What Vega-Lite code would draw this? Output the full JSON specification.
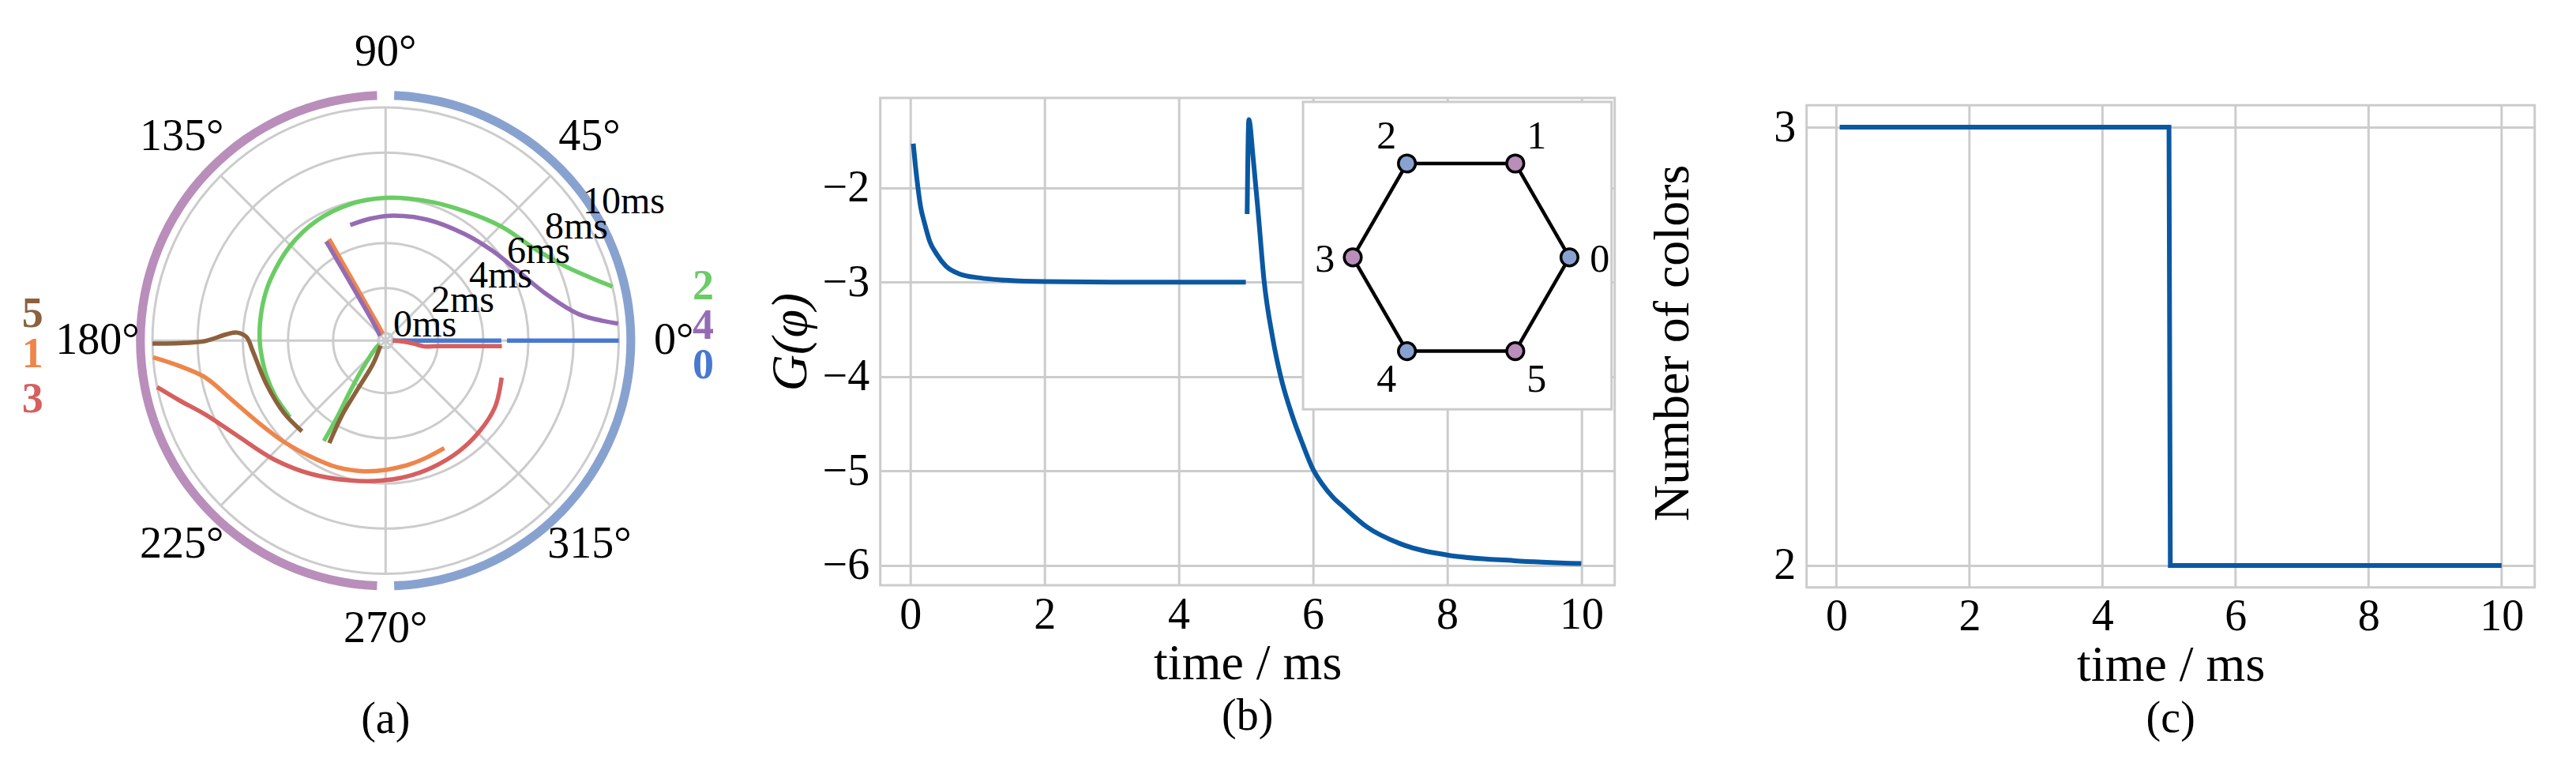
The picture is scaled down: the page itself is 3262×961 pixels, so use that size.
{
  "$schema": "https://vega.github.io/schema/vega-lite/v6.json",
  "background": "white",
  "padding": {"left": 27, "top": 38, "right": 5, "bottom": 5},
  "config": {
    "font": "Liberation Serif",
    "view": {"stroke": "#cccccc", "strokeWidth": 3},
    "axis": {
      "labelFont": "Liberation Serif", "labelFontSize": 56, "labelColor": "black",
      "titleFont": "Liberation Serif", "titleFontSize": 64, "titleFontWeight": "normal", "titleColor": "black",
      "gridColor": "#cccccc", "gridWidth": 3, "gridOpacity": 1,
      "domain": false, "ticks": false, "tickSize": 0,
      "labelFlush": false, "labelOverlap": false
    },
    "title": {"font": "Liberation Serif", "fontSize": 56, "fontWeight": "normal", "color": "black"}
  },
  "datasets": {
    "traj": [
      {"node": "0", "seg": 1, "t": 0, "a": 0}, {"node": "0", "seg": 1, "t": 4.8, "a": 0},
      {"node": "0", "seg": 2, "t": 5.05, "a": 0}, {"node": "0", "seg": 2, "t": 10, "a": 0},
      {"node": "1", "seg": 1, "t": 0, "a": 112}, {"node": "1", "seg": 1, "t": 0.5, "a": 116}, {"node": "1", "seg": 1, "t": 1.5, "a": 118}, {"node": "1", "seg": 1, "t": 3, "a": 118.8}, {"node": "1", "seg": 1, "t": 4.83, "a": 119.1},
      {"node": "1", "seg": 2, "t": 5.1, "a": -61.4}, {"node": "1", "seg": 2, "t": 5.16, "a": -70.5}, {"node": "1", "seg": 2, "t": 5.25, "a": -78.7}, {"node": "1", "seg": 2, "t": 5.4, "a": -89.9}, {"node": "1", "seg": 2, "t": 5.54, "a": -99.6}, {"node": "1", "seg": 2, "t": 5.68, "a": -110.9}, {"node": "1", "seg": 2, "t": 5.79, "a": -122.8}, {"node": "1", "seg": 2, "t": 6.02, "a": -134.8}, {"node": "1", "seg": 2, "t": 6.38, "a": -147.3}, {"node": "1", "seg": 2, "t": 6.97, "a": -158.9}, {"node": "1", "seg": 2, "t": 7.82, "a": -168.4}, {"node": "1", "seg": 2, "t": 8.88, "a": -173}, {"node": "1", "seg": 2, "t": 10, "a": -175.9},
      {"node": "2", "seg": 1, "t": 0, "a": 210}, {"node": "2", "seg": 1, "t": 0.26, "a": 218}, {"node": "2", "seg": 1, "t": 1.21, "a": 230}, {"node": "2", "seg": 1, "t": 2.4, "a": 234.9}, {"node": "2", "seg": 1, "t": 3.69, "a": 237.7}, {"node": "2", "seg": 1, "t": 4.89, "a": 238.4},
      {"node": "2", "seg": 2, "t": 5.1, "a": 218.6}, {"node": "2", "seg": 2, "t": 5.14, "a": 207}, {"node": "2", "seg": 2, "t": 5.18, "a": 196.1}, {"node": "2", "seg": 2, "t": 5.22, "a": 185}, {"node": "2", "seg": 2, "t": 5.25, "a": 180}, {"node": "2", "seg": 2, "t": 5.29, "a": 172}, {"node": "2", "seg": 2, "t": 5.37, "a": 161.3}, {"node": "2", "seg": 2, "t": 5.45, "a": 152}, {"node": "2", "seg": 2, "t": 5.63, "a": 135.4}, {"node": "2", "seg": 2, "t": 5.8, "a": 119.9}, {"node": "2", "seg": 2, "t": 5.92, "a": 104.4}, {"node": "2", "seg": 2, "t": 6.0, "a": 90}, {"node": "2", "seg": 2, "t": 6.12, "a": 73.5}, {"node": "2", "seg": 2, "t": 6.41, "a": 57.9}, {"node": "2", "seg": 2, "t": 6.9, "a": 43.9}, {"node": "2", "seg": 2, "t": 7.4, "a": 32.1}, {"node": "2", "seg": 2, "t": 8.32, "a": 22.2}, {"node": "2", "seg": 2, "t": 9.15, "a": 17.2}, {"node": "2", "seg": 2, "t": 10, "a": 13.4},
      {"node": "3", "seg": 1, "t": 0, "a": 0}, {"node": "3", "seg": 1, "t": 0.58, "a": -3.7}, {"node": "3", "seg": 1, "t": 1.0, "a": -6.5}, {"node": "3", "seg": 1, "t": 1.41, "a": -8.5}, {"node": "3", "seg": 1, "t": 2.0, "a": -6.0}, {"node": "3", "seg": 1, "t": 3.0, "a": -4.2}, {"node": "3", "seg": 1, "t": 4.0, "a": -3.2}, {"node": "3", "seg": 1, "t": 4.83, "a": -2.7},
      {"node": "3", "seg": 2, "t": 5.07, "a": -17.7}, {"node": "3", "seg": 2, "t": 5.34, "a": -31.1}, {"node": "3", "seg": 2, "t": 5.46, "a": -44.2}, {"node": "3", "seg": 2, "t": 5.56, "a": -56.7}, {"node": "3", "seg": 2, "t": 5.66, "a": -69.9}, {"node": "3", "seg": 2, "t": 5.77, "a": -81.6}, {"node": "3", "seg": 2, "t": 5.88, "a": -92}, {"node": "3", "seg": 2, "t": 6.06, "a": -104.2}, {"node": "3", "seg": 2, "t": 6.44, "a": -119.3}, {"node": "3", "seg": 2, "t": 6.89, "a": -133.2}, {"node": "3", "seg": 2, "t": 7.48, "a": -147.4}, {"node": "3", "seg": 2, "t": 8.3, "a": -157.7}, {"node": "3", "seg": 2, "t": 9.19, "a": -163.9}, {"node": "3", "seg": 2, "t": 10, "a": -168.5},
      {"node": "4", "seg": 1, "t": 0, "a": 140}, {"node": "4", "seg": 1, "t": 0.3, "a": 128}, {"node": "4", "seg": 1, "t": 1, "a": 123}, {"node": "4", "seg": 1, "t": 2.5, "a": 121.5}, {"node": "4", "seg": 1, "t": 4.8, "a": 120.9},
      {"node": "4", "seg": 2, "t": 5.03, "a": 107}, {"node": "4", "seg": 2, "t": 5.12, "a": 97}, {"node": "4", "seg": 2, "t": 5.21, "a": 88}, {"node": "4", "seg": 2, "t": 5.34, "a": 71.2}, {"node": "4", "seg": 2, "t": 5.55, "a": 53.5}, {"node": "4", "seg": 2, "t": 5.86, "a": 39.9}, {"node": "4", "seg": 2, "t": 6.32, "a": 27.2}, {"node": "4", "seg": 2, "t": 7.05, "a": 16.5}, {"node": "4", "seg": 2, "t": 8.34, "a": 7.7}, {"node": "4", "seg": 2, "t": 10, "a": 4.2},
      {"node": "5", "seg": 1, "t": 0, "a": 225}, {"node": "5", "seg": 1, "t": 0.88, "a": 241.7}, {"node": "5", "seg": 1, "t": 2.11, "a": 240.1}, {"node": "5", "seg": 1, "t": 3.47, "a": 239.7}, {"node": "5", "seg": 1, "t": 4.85, "a": 241.2},
      {"node": "5", "seg": 2, "t": 5.14, "a": 227.3}, {"node": "5", "seg": 2, "t": 5.2, "a": 215.2}, {"node": "5", "seg": 2, "t": 5.3, "a": 199.5}, {"node": "5", "seg": 2, "t": 5.57, "a": 184.7}, {"node": "5", "seg": 2, "t": 5.84, "a": 178.5}, {"node": "5", "seg": 2, "t": 6.26, "a": 176.9}, {"node": "5", "seg": 2, "t": 6.72, "a": 177.7}, {"node": "5", "seg": 2, "t": 7.65, "a": 180.1}, {"node": "5", "seg": 2, "t": 8.81, "a": 180.7}, {"node": "5", "seg": 2, "t": 10, "a": 180.7}
    ],
    "gcurve": [
      {"seg": 1, "t": 0.044, "G": -1.534}, {"seg": 1, "t": 0.075, "G": -1.76}, {"seg": 1, "t": 0.114, "G": -2.0}, {"seg": 1, "t": 0.153, "G": -2.2}, {"seg": 1, "t": 0.21, "G": -2.37}, {"seg": 1, "t": 0.29, "G": -2.57}, {"seg": 1, "t": 0.39, "G": -2.7}, {"seg": 1, "t": 0.53, "G": -2.83}, {"seg": 1, "t": 0.72, "G": -2.91}, {"seg": 1, "t": 1.04, "G": -2.956}, {"seg": 1, "t": 1.43, "G": -2.98}, {"seg": 1, "t": 2.0, "G": -2.995}, {"seg": 1, "t": 3.0, "G": -3.0}, {"seg": 1, "t": 5.0, "G": -3.0},
      {"seg": 2, "t": 5.02, "G": -2.28}, {"seg": 2, "t": 5.045, "G": -1.28}, {"seg": 2, "t": 5.11, "G": -1.69}, {"seg": 2, "t": 5.19, "G": -2.31}, {"seg": 2, "t": 5.27, "G": -2.97}, {"seg": 2, "t": 5.4, "G": -3.59}, {"seg": 2, "t": 5.52, "G": -4.0}, {"seg": 2, "t": 5.69, "G": -4.41}, {"seg": 2, "t": 5.85, "G": -4.72}, {"seg": 2, "t": 6.0, "G": -4.98}, {"seg": 2, "t": 6.14, "G": -5.14}, {"seg": 2, "t": 6.3, "G": -5.28}, {"seg": 2, "t": 6.47, "G": -5.39}, {"seg": 2, "t": 6.8, "G": -5.59}, {"seg": 2, "t": 7.3, "G": -5.77}, {"seg": 2, "t": 8.0, "G": -5.89}, {"seg": 2, "t": 9.0, "G": -5.95}, {"seg": 2, "t": 10, "G": -5.98}
    ],
    "ncolors": [
      {"t": 0.05, "n": 3}, {"t": 5.0, "n": 3}, {"t": 5.02, "n": 2}, {"t": 10, "n": 2}
    ],
    "nodes": [
      {"n": "0", "x": 1, "y": 0, "grp": "A", "lx": 1.279, "ly": -0.02},
      {"n": "1", "x": 0.5, "y": 0.866, "grp": "B", "lx": 0.696, "ly": 1.111},
      {"n": "2", "x": -0.5, "y": 0.866, "grp": "A", "lx": -0.689, "ly": 1.111},
      {"n": "3", "x": -1, "y": 0, "grp": "B", "lx": -1.257, "ly": -0.02},
      {"n": "4", "x": -0.5, "y": -0.866, "grp": "A", "lx": -0.689, "ly": -1.13},
      {"n": "5", "x": 0.5, "y": -0.866, "grp": "B", "lx": 0.696, "ly": -1.13}
    ],
    "edges": [
      {"x": 1, "y": 0, "x2": 0.5, "y2": 0.866},
      {"x": 0.5, "y": 0.866, "x2": -0.5, "y2": 0.866},
      {"x": -0.5, "y": 0.866, "x2": -1, "y2": 0},
      {"x": -1, "y": 0, "x2": -0.5, "y2": -0.866},
      {"x": -0.5, "y": -0.866, "x2": 0.5, "y2": -0.866},
      {"x": 0.5, "y": -0.866, "x2": 1, "y2": 0}
    ]
  },
  "bounds": "flush",
  "spacing": 318.7,
  "hconcat": [
    {
      "width": 614.6,
      "height": 614.6,
      "view": {"stroke": null},
      "title": {"text": "(a)", "orient": "bottom", "offset": 60, "font": "Liberation Serif", "fontSize": 56, "fontWeight": "normal", "color": "black"},
      "layer": [
        {
          "data": {"values": [{"t": 0, "a0": 90, "a1": -270}, {"t": 2, "a0": 90, "a1": -270}, {"t": 4, "a0": 90, "a1": -270}, {"t": 6, "a0": 90, "a1": -270}, {"t": 8, "a0": 90, "a1": -270}, {"t": 10, "a0": 90, "a1": -270}]},
          "mark": {"type": "arc", "fill": "white", "fillOpacity": 0, "stroke": "#cccccc", "strokeWidth": 3},
          "encoding": {
            "theta": {"field": "a0", "type": "quantitative", "stack": null, "scale": {"type": "linear", "domain": [90, -270], "range": [0, 6.283185307179586], "zero": false, "nice": false}},
            "theta2": {"field": "a1"},
            "radius": {"field": "t", "type": "quantitative", "scale": {"type": "linear", "domain": [-0.3234, 10], "range": [0, 295.25], "zero": false, "nice": false}}
          }
        },
        {
          "data": {"values": [{"a": 0, "o": 0}, {"a": 45, "o": 0}, {"a": 90, "o": 0}, {"a": 135, "o": 0}, {"a": 180, "o": 0}, {"a": 225, "o": 0}, {"a": 270, "o": 0}, {"a": 315, "o": 0}]},
          "transform": [
            {"calculate": "10.3234 * cos(datum.a * PI / 180)", "as": "sx"},
            {"calculate": "10.3234 * sin(datum.a * PI / 180)", "as": "sy"}
          ],
          "mark": {"type": "rule", "color": "#cccccc", "strokeWidth": 3},
          "encoding": {
            "x": {"field": "o", "type": "quantitative", "scale": {"domain": [-10.745, 10.745], "nice": false, "zero": false}, "axis": null},
            "y": {"field": "o", "type": "quantitative", "scale": {"domain": [-10.745, 10.745], "nice": false, "zero": false}, "axis": null},
            "x2": {"field": "sx"},
            "y2": {"field": "sy"}
          }
        },
        {
          "data": {"values": [{"a0": 88, "a1": -88, "ro": 10.73, "ri": 10.34}]},
          "mark": {"type": "arc", "color": "#88a2d0"},
          "encoding": {
            "theta": {"field": "a0", "type": "quantitative", "stack": null, "scale": {"type": "linear", "domain": [90, -270], "range": [0, 6.283185307179586], "zero": false, "nice": false}},
            "theta2": {"field": "a1"},
            "radius": {"field": "ro", "type": "quantitative", "scale": {"type": "linear", "domain": [-0.3234, 10], "range": [0, 295.25], "zero": false, "nice": false}},
            "radius2": {"field": "ri"}
          }
        },
        {
          "data": {"values": [{"a0": 268, "a1": 92, "ro": 10.73, "ri": 10.34}]},
          "mark": {"type": "arc", "color": "#b98ebb"},
          "encoding": {
            "theta": {"field": "a0", "type": "quantitative", "stack": null, "scale": {"type": "linear", "domain": [90, -270], "range": [0, 6.283185307179586], "zero": false, "nice": false}},
            "theta2": {"field": "a1"},
            "radius": {"field": "ro", "type": "quantitative", "scale": {"type": "linear", "domain": [-0.3234, 10], "range": [0, 295.25], "zero": false, "nice": false}},
            "radius2": {"field": "ri"}
          }
        },
        {
          "data": {"name": "traj"},
          "transform": [
            {"calculate": "(datum.t + 0.3234) * cos(datum.a * PI / 180)", "as": "px"},
            {"calculate": "(datum.t + 0.3234) * sin(datum.a * PI / 180)", "as": "py"}
          ],
          "mark": {"type": "line", "strokeWidth": 5.5, "interpolate": "catmull-rom"},
          "encoding": {
            "x": {"field": "px", "type": "quantitative", "scale": {"domain": [-10.745, 10.745], "nice": false, "zero": false}, "axis": null},
            "y": {"field": "py", "type": "quantitative", "scale": {"domain": [-10.745, 10.745], "nice": false, "zero": false}, "axis": null},
            "color": {"field": "node", "type": "nominal", "scale": {"domain": ["0", "1", "2", "3", "4", "5"], "range": ["#4878d0", "#ee854a", "#6acc64", "#d65f5f", "#956cb4", "#8c613c"]}, "legend": null},
            "detail": {"field": "seg", "type": "nominal"},
            "order": {"field": "t", "type": "quantitative"}
          }
        },
        {
          "data": {"values": [
            {"deg": 0, "label": "0°"}, {"deg": 45, "label": "45°"}, {"deg": 90, "label": "90°"}, {"deg": 135, "label": "135°"},
            {"deg": 180, "label": "180°"}, {"deg": 225, "label": "225°"}, {"deg": 270, "label": "270°"}, {"deg": 315, "label": "315°"}
          ]},
          "transform": [
            {"calculate": "12.76 * cos(datum.deg * PI / 180)", "as": "px"},
            {"calculate": "12.76 * sin(datum.deg * PI / 180)", "as": "py"}
          ],
          "mark": {"type": "text", "font": "Liberation Serif", "fontSize": 56, "align": "center", "baseline": "middle", "color": "black"},
          "encoding": {
            "x": {"field": "px", "type": "quantitative", "scale": {"domain": [-10.745, 10.745], "nice": false, "zero": false}, "axis": null},
            "y": {"field": "py", "type": "quantitative", "scale": {"domain": [-10.745, 10.745], "nice": false, "zero": false}, "axis": null},
            "text": {"field": "label"}
          }
        },
        {
          "data": {"values": [
            {"t": 0, "label": "0ms"}, {"t": 2, "label": "2ms"}, {"t": 4, "label": "4ms"},
            {"t": 6, "label": "6ms"}, {"t": 8, "label": "8ms"}, {"t": 10, "label": "10ms"}
          ]},
          "transform": [
            {"calculate": "(datum.t + 0.3234) * cos(33 * PI / 180)", "as": "px"},
            {"calculate": "(datum.t + 0.3234) * sin(33 * PI / 180)", "as": "py"}
          ],
          "mark": {"type": "text", "font": "Liberation Serif", "fontSize": 48, "align": "left", "baseline": "alphabetic", "dx": 2, "color": "black"},
          "encoding": {
            "x": {"field": "px", "type": "quantitative", "scale": {"domain": [-10.745, 10.745], "nice": false, "zero": false}, "axis": null},
            "y": {"field": "py", "type": "quantitative", "scale": {"domain": [-10.745, 10.745], "nice": false, "zero": false}, "axis": null},
            "text": {"field": "label"}
          }
        },
        {
          "data": {"values": [
            {"node": "2", "lx": 14.06, "ly": 2.38}, {"node": "4", "lx": 14.06, "ly": 0.63}, {"node": "0", "lx": 14.06, "ly": -1.12},
            {"node": "5", "lx": -15.63, "ly": 1.15}, {"node": "1", "lx": -15.63, "ly": -0.63}, {"node": "3", "lx": -15.63, "ly": -2.62}
          ]},
          "mark": {"type": "text", "font": "Liberation Serif", "fontSize": 54, "fontWeight": "bold", "align": "center", "baseline": "middle"},
          "encoding": {
            "x": {"field": "lx", "type": "quantitative", "scale": {"domain": [-10.745, 10.745], "nice": false, "zero": false}, "axis": null},
            "y": {"field": "ly", "type": "quantitative", "scale": {"domain": [-10.745, 10.745], "nice": false, "zero": false}, "axis": null},
            "color": {"field": "node", "type": "nominal", "scale": {"domain": ["0", "1", "2", "3", "4", "5"], "range": ["#4878d0", "#ee854a", "#6acc64", "#d65f5f", "#956cb4", "#8c613c"]}, "legend": null},
            "text": {"field": "node"}
          }
        }
      ]
    },
    {
      "bounds": "flush",
      "spacing": 243,
      "hconcat": [
        {
          "width": 930,
          "height": 617,
          "view": {"stroke": "#cccccc", "strokeWidth": 3},
          "title": {"text": "(b)", "orient": "bottom", "offset": 8, "font": "Liberation Serif", "fontSize": 56, "fontWeight": "normal", "color": "black"},
          "resolve": {"scale": {"x": "independent", "y": "independent"}, "axis": {"x": "independent", "y": "independent"}},
          "layer": [
            {
              "data": {"name": "gcurve"},
              "mark": {"type": "line", "color": "#0a58a2", "strokeWidth": 6, "interpolate": "monotone"},
              "encoding": {
                "x": {"field": "t", "type": "quantitative", "scale": {"domain": [-0.4475, 10.4975], "nice": false, "zero": false}, "axis": {"values": [0, 2, 4, 6, 8, 10], "format": "d", "title": "time / ms", "labelFont": "Liberation Serif", "labelFontSize": 56, "labelColor": "black", "titleFont": "Liberation Serif", "titleFontSize": 64, "titleFontWeight": "normal", "titleColor": "black", "gridColor": "#cccccc", "gridWidth": 3, "gridOpacity": 1, "domain": false, "ticks": false, "labelPadding": 10, "titlePadding": 2}},
                "y": {"field": "G", "type": "quantitative", "scale": {"domain": [-6.21, -1.05], "nice": false, "zero": false}, "axis": {"values": [-6, -5, -4, -3, -2], "format": "d", "title": "G(φ)", "titleFontStyle": "italic", "labelFont": "Liberation Serif", "labelFontSize": 56, "labelColor": "black", "titleFont": "Liberation Serif", "titleFontSize": 64, "titleFontWeight": "normal", "titleColor": "black", "gridColor": "#cccccc", "gridWidth": 3, "gridOpacity": 1, "domain": false, "ticks": false, "labelPadding": 14, "titlePadding": 8}},
                "detail": {"field": "seg", "type": "nominal"}
              }
            },
            {
              "layer": [
                {
                  "data": {"values": [{"bx": -1.459, "bx2": 1.3885, "by": 1.434, "by2": -1.403}]},
                  "mark": {"type": "rect", "fill": "white", "stroke": "#cccccc", "strokeWidth": 3},
                  "encoding": {
                    "x": {"field": "bx", "type": "quantitative", "scale": {"domain": [-5.361, 1.4176], "nice": false, "zero": false}, "axis": null},
                    "x2": {"field": "bx2"},
                    "y": {"field": "by", "type": "quantitative", "scale": {"domain": [-3.0262, 1.4708], "nice": false, "zero": false}, "axis": null},
                    "y2": {"field": "by2"}
                  }
                },
                {
                  "data": {"name": "edges"},
                  "mark": {"type": "rule", "color": "black", "strokeWidth": 4.5},
                  "encoding": {
                    "x": {"field": "x", "type": "quantitative", "scale": {"domain": [-5.361, 1.4176], "nice": false, "zero": false}, "axis": null},
                    "y": {"field": "y", "type": "quantitative", "scale": {"domain": [-3.0262, 1.4708], "nice": false, "zero": false}, "axis": null},
                    "x2": {"field": "x2"},
                    "y2": {"field": "y2"}
                  }
                },
                {
                  "data": {"name": "nodes"},
                  "mark": {"type": "point", "shape": "circle", "filled": true, "size": 470, "stroke": "black", "strokeWidth": 3.5, "opacity": 1},
                  "encoding": {
                    "x": {"field": "x", "type": "quantitative", "scale": {"domain": [-5.361, 1.4176], "nice": false, "zero": false}, "axis": null},
                    "y": {"field": "y", "type": "quantitative", "scale": {"domain": [-3.0262, 1.4708], "nice": false, "zero": false}, "axis": null},
                    "fill": {"field": "grp", "type": "nominal", "scale": {"domain": ["A", "B"], "range": ["#88a2d0", "#b98ebb"]}, "legend": null}
                  }
                },
                {
                  "data": {"name": "nodes"},
                  "mark": {"type": "text", "font": "Liberation Serif", "fontSize": 50, "align": "center", "baseline": "middle", "color": "black"},
                  "encoding": {
                    "x": {"field": "lx", "type": "quantitative", "scale": {"domain": [-5.361, 1.4176], "nice": false, "zero": false}, "axis": null},
                    "y": {"field": "ly", "type": "quantitative", "scale": {"domain": [-3.0262, 1.4708], "nice": false, "zero": false}, "axis": null},
                    "text": {"field": "n"}
                  }
                }
              ]
            }
          ]
        },
        {
          "width": 922,
          "height": 619.7,
          "view": {"stroke": null},
          "title": {"text": "(c)", "orient": "bottom", "offset": 8, "font": "Liberation Serif", "fontSize": 56, "fontWeight": "normal", "color": "black"},
          "layer": [
            {
              "data": {"values": [{"t": 0, "lo": 1.95, "hi": 3.05}, {"t": 2, "lo": 1.95, "hi": 3.05}, {"t": 4, "lo": 1.95, "hi": 3.05}, {"t": 6, "lo": 1.95, "hi": 3.05}, {"t": 8, "lo": 1.95, "hi": 3.05}, {"t": 10, "lo": 1.95, "hi": 3.05}]},
              "mark": {"type": "rule", "color": "#cccccc", "strokeWidth": 3},
              "encoding": {
                "x": {"field": "t", "type": "quantitative", "scale": {"domain": [-0.4475, 10.4975], "nice": false, "zero": false}},
                "y": {"field": "lo", "type": "quantitative", "scale": {"domain": [1.95, 3.0668], "nice": false, "zero": false}},
                "y2": {"field": "hi"}
              }
            },
            {
              "data": {"values": [{"fx": -0.4475, "fx2": 10.4975, "fy": 1.95, "fy2": 3.05}]},
              "mark": {"type": "rect", "fill": null, "stroke": "#cccccc", "strokeWidth": 3},
              "encoding": {
                "x": {"field": "fx", "type": "quantitative", "scale": {"domain": [-0.4475, 10.4975], "nice": false, "zero": false}},
                "x2": {"field": "fx2"},
                "y": {"field": "fy", "type": "quantitative", "scale": {"domain": [1.95, 3.0668], "nice": false, "zero": false}},
                "y2": {"field": "fy2"}
              }
            },
            {
              "data": {"name": "ncolors"},
              "mark": {"type": "line", "color": "#0a58a2", "strokeWidth": 6},
              "encoding": {
                "x": {"field": "t", "type": "quantitative", "scale": {"domain": [-0.4475, 10.4975], "nice": false, "zero": false}, "axis": {"values": [0, 2, 4, 6, 8, 10], "format": "d", "grid": false, "title": "time / ms", "labelFont": "Liberation Serif", "labelFontSize": 56, "labelColor": "black", "titleFont": "Liberation Serif", "titleFontSize": 64, "titleFontWeight": "normal", "titleColor": "black", "domain": false, "ticks": false, "labelPadding": 10, "titlePadding": 2}},
                "y": {"field": "n", "type": "quantitative", "scale": {"domain": [1.95, 3.0668], "nice": false, "zero": false}, "axis": {"values": [2, 2.2, 2.4, 2.6, 2.8, 3], "format": "d", "labelExpr": "datum.value == 2 || datum.value == 3 ? datum.label : ''", "title": "Number of colors", "labelFont": "Liberation Serif", "labelFontSize": 56, "labelColor": "black", "titleFont": "Liberation Serif", "titleFontSize": 64, "titleFontWeight": "normal", "titleColor": "black", "gridColor": "#cccccc", "gridWidth": 3, "gridOpacity": 1, "domain": false, "ticks": false, "labelPadding": 14, "titlePadding": 95}}
              }
            }
          ]
        }
      ]
    }
  ]
}
